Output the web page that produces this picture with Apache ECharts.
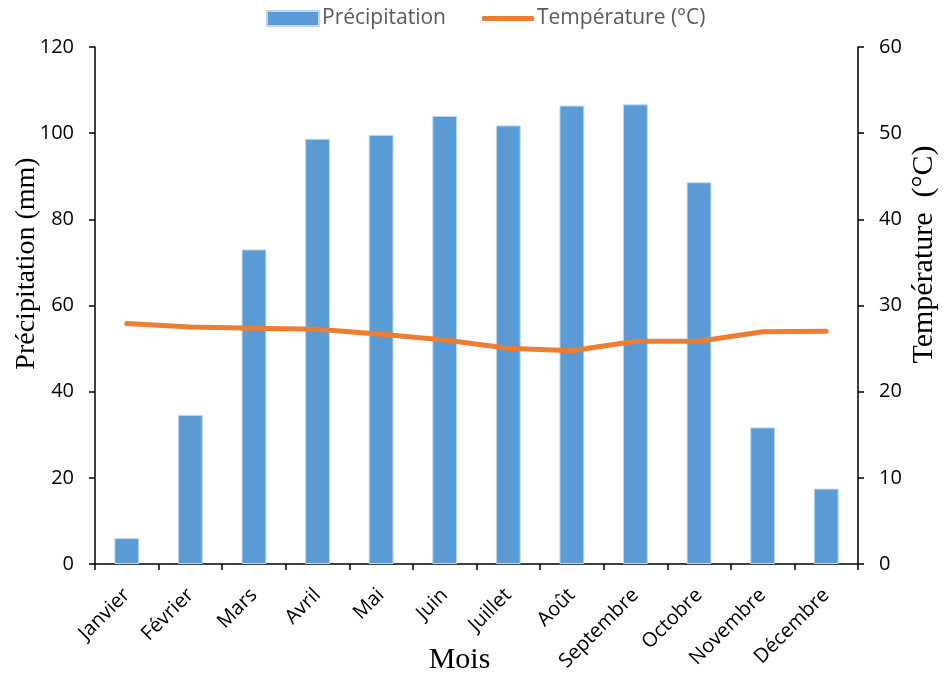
<!DOCTYPE html>
<html><head><meta charset="utf-8">
<script src="https://cdn.jsdelivr.net/npm/echarts@6/dist/echarts.min.js"></script>
<style>html,body{margin:0;padding:0;background:#fff}#c{width:944px;height:675px}</style>
</head><body><div id="c"></div>
<script>
const months = ['Janvier','Février','Mars','Avril','Mai','Juin','Juillet','Août','Septembre','Octobre','Novembre','Décembre'];
const precipitation = [6, 34.6, 73, 98.7, 99.6, 104, 101.8, 106.4, 106.7, 88.6, 31.7, 17.5];
const temperature = [27.9, 27.5, 27.35, 27.25, 26.65, 26.0, 25.05, 24.75, 25.85, 25.85, 26.95, 27.0];
const leftTicks = [0, 120, 20];
const rightTicks = [0, 60, 10];

const chart = echarts.init(document.getElementById('c'));
const axisCommon = {
  axisLine:{show:true,lineStyle:{color:'#000',width:1.5}},
  axisTick:{show:true,inside:false,length:6,lineStyle:{color:'#000',width:1.5}},
  splitLine:{show:false},
  axisLabel:{color:'#000',fontFamily:'Open Sans',fontSize:20,margin:21},
  nameLocation:'middle',
  nameMoveOverlap:false
};
const legendText = {fontFamily:'Open Sans',fontSize:21,color:'#595959',padding:[0,0,0,-2]};
chart.setOption({
  animation:false,
  legend:[
    {left:266,top:8,padding:0,itemWidth:52,itemHeight:15,textStyle:legendText,
      data:[{name:'Précipitation',icon:'rect'}]},
    {left:482,top:8,padding:0,itemWidth:52,itemHeight:5,textStyle:legendText,
      data:[{name:'Température (°C)',icon:'roundRect'}]}
  ],
  grid:{left:95,right:86,top:47,bottom:111,outerBoundsMode:'none',containLabel:false},
  xAxis:{type:'category',data:months,
    name:'Mois',nameGap:81,nameMoveOverlap:false,nameLocation:'middle',
    nameTextStyle:{fontFamily:'Liberation Serif',fontSize:30,color:'#000',padding:[0,34,0,0]},
    axisLine:{lineStyle:{color:'#000',width:1.5}},
    axisTick:{show:true,alignWithLabel:false,length:6,lineStyle:{color:'#000',width:1.5}},
    axisLabel:{rotate:45,color:'#000',fontFamily:'Open Sans',fontSize:20,margin:28,interval:0}},
  yAxis:[
    Object.assign({},axisCommon,{type:'value',min:leftTicks[0],max:leftTicks[1],interval:leftTicks[2],
      name:'Précipitation (mm)',nameGap:54,
      nameTextStyle:{fontFamily:'Liberation Serif',fontSize:28,color:'#000',padding:[0,0,0,84]}}),
    Object.assign({},axisCommon,{type:'value',min:rightTicks[0],max:rightTicks[1],interval:rightTicks[2],
      name:'Température  (°C)',nameGap:51,
      nameTextStyle:{fontFamily:'Liberation Serif',fontSize:30,color:'#000',padding:[0,0,0,102]}})
  ],
  series:[
    {name:'Précipitation',type:'bar',data:precipitation,barWidth:'39%',yAxisIndex:0,
      itemStyle:{color:'#5B9BD5',borderColor:'#BDD7EE',borderWidth:1}},
    {name:'Température (°C)',type:'line',data:temperature,yAxisIndex:1,showSymbol:false,symbol:'none',
      lineStyle:{color:'#ED7D31',width:5,cap:'round',join:'round'},itemStyle:{color:'#ED7D31'}}
  ]
});
</script></body></html>
